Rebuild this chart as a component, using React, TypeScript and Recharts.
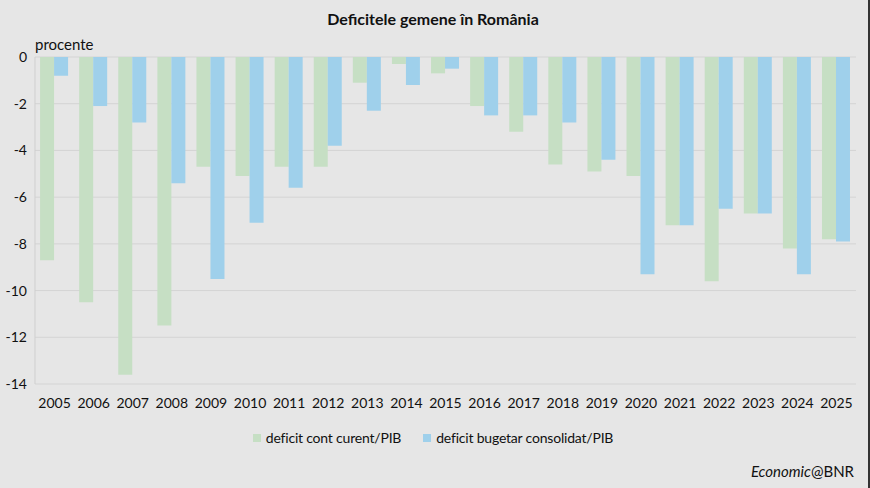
import { Bar, BarChart, CartesianGrid, XAxis, YAxis } from "recharts";

const years = [
  "2005", "2006", "2007", "2008", "2009", "2010", "2011", "2012", "2013", "2014", "2015",
  "2016", "2017", "2018", "2019", "2020", "2021", "2022", "2023", "2024", "2025",
];

const contCurent = [
  -8.7, -10.5, -13.6, -11.5, -4.7, -5.1, -4.7, -4.7, -1.1, -0.3, -0.7,
  -2.1, -3.2, -4.6, -4.9, -5.1, -7.2, -9.6, -6.7, -8.2, -7.8,
];

const bugetar = [
  -0.8, -2.1, -2.8, -5.4, -9.5, -7.1, -5.6, -3.8, -2.3, -1.2, -0.5,
  -2.5, -2.5, -2.8, -4.4, -9.3, -7.2, -6.5, -6.7, -9.3, -7.9,
];

const yTicks = [0, -2, -4, -6, -8, -10, -12, -14];

const seriesNames = ["deficit cont curent/PIB", "deficit bugetar consolidat/PIB"];

const chartData = years.map((year, i) => ({
  year,
  cont: contCurent[i],
  buget: bugetar[i],
}));

const font = "Lato, 'Open Sans', sans-serif";
const green = "#c6dfc4";
const blue = "#9fd0eb";

function LegendItem({ color, label }: { color: string; label: string }) {
  return (
    <div style={{ display: "flex", alignItems: "center", whiteSpace: "nowrap" }}>
      <span style={{ width: 8, height: 8, background: color, marginRight: 5, display: "inline-block" }} />
      {label}
    </div>
  );
}

function App() {
  return (
    <div
      style={{
        position: "absolute",
        left: 0,
        top: 0,
        width: 870,
        height: 488,
        background: "#e6e6e6",
        fontFamily: font,
        color: "#111",
        borderRight: "2px solid #333",
        boxSizing: "border-box",
      }}
    >
      <div
        style={{
          position: "absolute",
          top: 9,
          left: 0,
          width: 866,
          textAlign: "center",
          fontWeight: 700,
          fontSize: 16,
        }}
      >
        Deficitele gemene în România
      </div>
      <div style={{ position: "absolute", top: 35, left: 35, fontSize: 15 }}>procente</div>

      <BarChart
        width={868}
        height={488}
        data={chartData}
        margin={{ top: 57, right: 12, left: 0, bottom: 74 }}
        barCategoryGap="13%"
        barGap={0}
      >
        <CartesianGrid vertical={false} stroke="#d4d4d4" />
        <XAxis
          dataKey="year"
          axisLine={false}
          tickLine={false}
          interval={0}
          tick={{ fill: "#111", fontSize: 14, fontFamily: font }}
          tickMargin={8}
          height={30}
        />
        <YAxis
          domain={[-14, 0]}
          ticks={yTicks}
          width={35}
          axisLine={{ stroke: "#cfcfcf" }}
          tickLine={false}
          tick={{ fill: "#111", fontSize: 14, fontFamily: font }}
        />
        <Bar dataKey="cont" name={seriesNames[0]} fill={green} isAnimationActive={false} />
        <Bar dataKey="buget" name={seriesNames[1]} fill={blue} isAnimationActive={false} />
      </BarChart>

      <div
        style={{
          position: "absolute",
          top: 429,
          left: 0,
          width: 866,
          display: "flex",
          justifyContent: "center",
          gap: 22,
          fontSize: 14,
          letterSpacing: -0.2,
        }}
      >
        <LegendItem color={green} label={seriesNames[0]} />
        <LegendItem color={blue} label={seriesNames[1]} />
      </div>

      <div style={{ position: "absolute", right: 14, top: 462, fontSize: 15 }}>
        <i>Economic</i>@BNR
      </div>
    </div>
  );
}

export default App;
